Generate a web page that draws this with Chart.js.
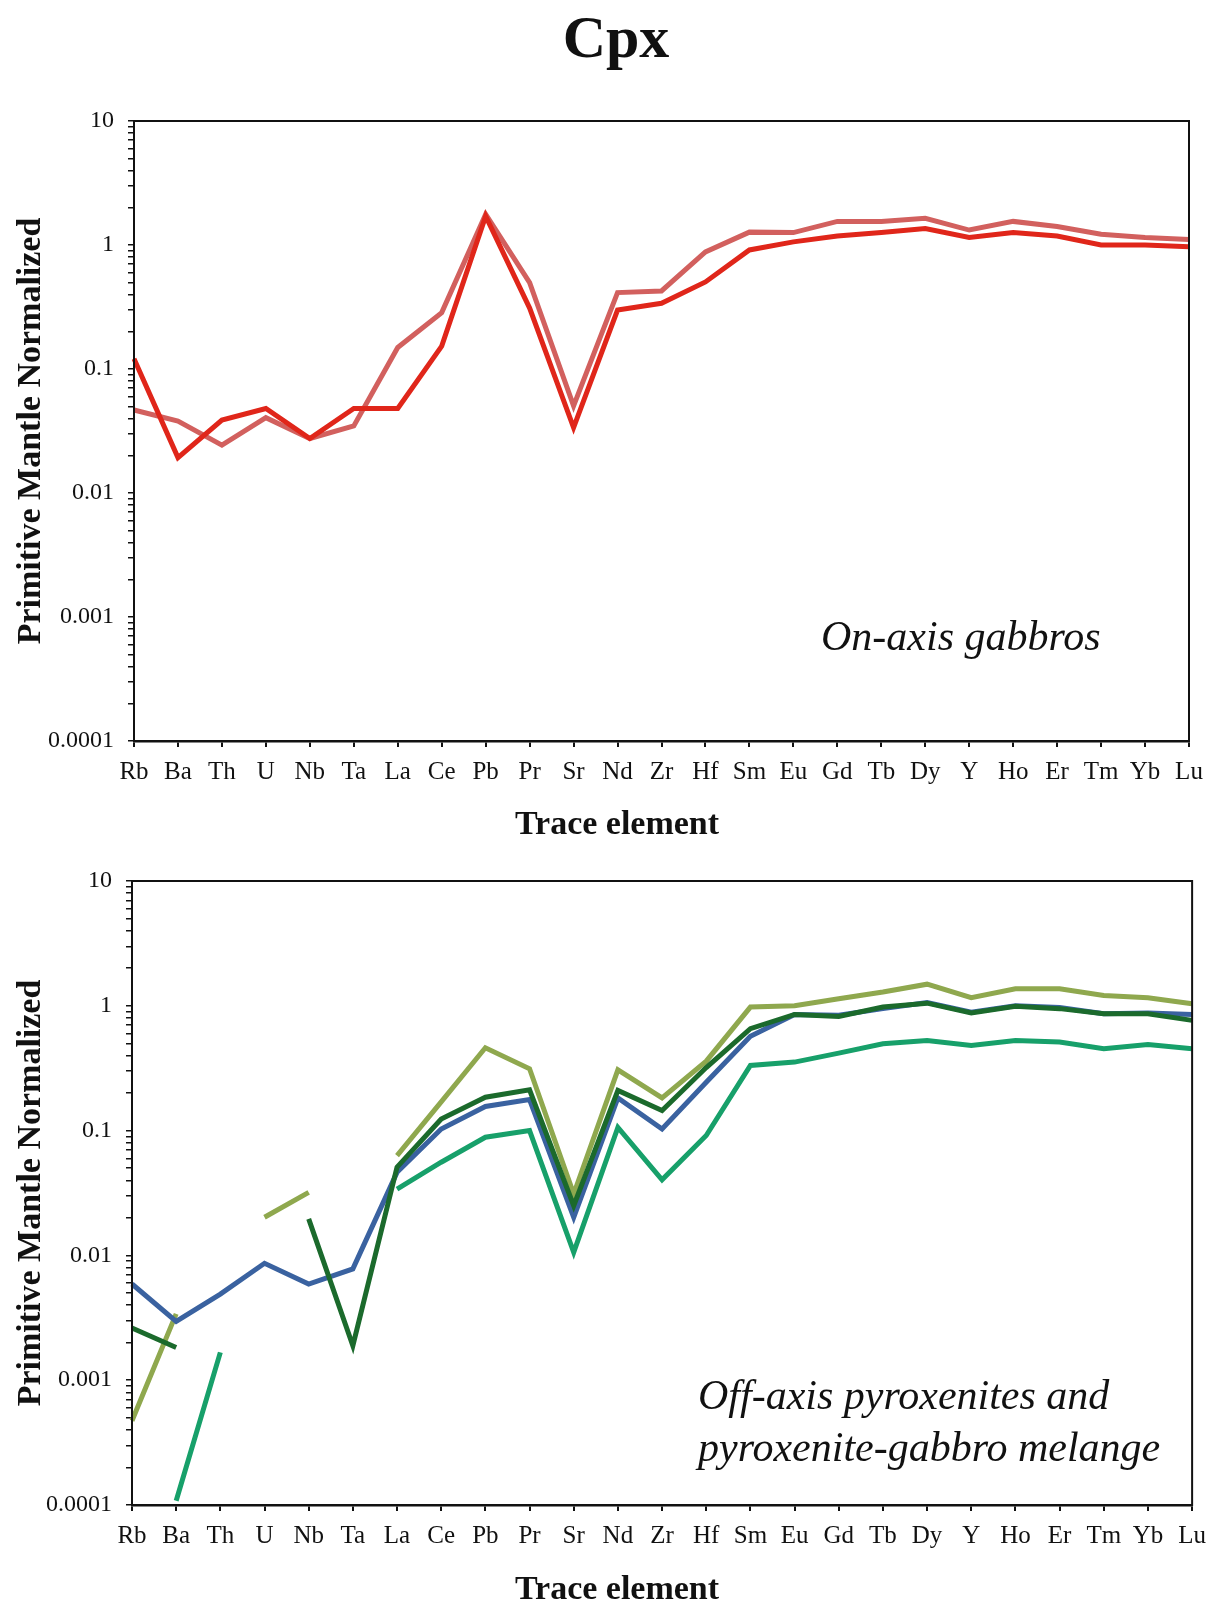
<!DOCTYPE html>
<html>
<head>
<meta charset="utf-8">
<script src="https://cdn.jsdelivr.net/npm/chart.js@4"></script>
<style>
  body { margin: 0; width: 1216px; height: 1600px; overflow: hidden; background: #fff; font-family: "Liberation Serif", serif; }
  .box { position: absolute; left: 0; width: 1216px; }
  .label { position: absolute; font-family: "Liberation Serif", serif; color: #111; white-space: nowrap; }
  .xtitle { left: 0; width: 1234px; text-align: center; font-size: 34px; font-weight: bold; line-height: 40px; }
</style>
</head>
<body>
<div class="label" style="left:0;width:1232px;top:6px;text-align:center;font-size:60px;font-weight:bold;line-height:62px;">Cpx</div>
<div class="box" style="top:0;height:850px;"><canvas id="top"></canvas></div>
<div class="box" style="top:850px;height:750px;"><canvas id="bottom"></canvas></div>
<div class="label xtitle" style="top:803px;">Trace element</div>
<div class="label xtitle" style="top:1568px;">Trace element</div>
<div class="label" style="left:821px;top:612px;font-size:42px;font-style:italic;line-height:48px;">On-axis gabbros</div>
<div class="label" style="left:698px;top:1369px;font-size:42px;font-style:italic;line-height:52px;">Off-axis pyroxenites and<br>pyroxenite-gabbro melange</div>
<script>
// trace elements, primitive-mantle normalized
const elements = ["Rb", "Ba", "Th", "U", "Nb", "Ta", "La", "Ce", "Pb", "Pr", "Sr", "Nd", "Zr", "Hf", "Sm", "Eu", "Gd", "Tb", "Dy", "Y", "Ho", "Er", "Tm", "Yb", "Lu"];
const yTicks = [0.0001, 0.001, 0.01, 0.1, 1, 10];

// on-axis gabbros
const gabbroA = [0.121, 0.0193, 0.0388, 0.048, 0.0275, 0.048, 0.048, 0.153, 1.71, 0.31, 0.0337, 0.299, 0.339, 0.504, 0.912, 1.06, 1.18, 1.26, 1.36, 1.15, 1.26, 1.18, 1.0, 1.0, 0.97];
const gabbroB = [0.0467, 0.038, 0.0243, 0.0405, 0.0275, 0.0347, 0.149, 0.285, 1.77, 0.497, 0.0504, 0.413, 0.426, 0.879, 1.27, 1.26, 1.55, 1.55, 1.64, 1.32, 1.55, 1.41, 1.22, 1.15, 1.11];

// off-axis pyroxenites / melange
const pyxOlive = [0.000473, 0.0034, null, 0.0202, 0.032, null, 0.063, 0.17, 0.461, 0.313, 0.031, 0.307, 0.183, 0.36, 0.977, 1.0, 1.14, 1.29, 1.49, 1.16, 1.37, 1.37, 1.21, 1.16, 1.04];
const pyxDark = [0.00262, 0.00183, null, null, 0.0196, 0.00189, 0.051, 0.124, 0.185, 0.212, 0.025, 0.21, 0.145, 0.32, 0.655, 0.853, 0.822, 0.977, 1.05, 0.875, 0.99, 0.949, 0.865, 0.865, 0.764];
const pyxBlue = [0.0059, 0.00296, 0.0049, 0.00865, 0.0059, 0.0078, 0.0463, 0.103, 0.156, 0.177, 0.0202, 0.183, 0.103, 0.244, 0.569, 0.853, 0.84, 0.949, 1.06, 0.89, 1.0, 0.97, 0.865, 0.875, 0.853];
const pyxTeal = [null, 0.000108, 0.00167, null, null, null, 0.034, 0.0558, 0.0885, 0.1, 0.0106, 0.106, 0.0403, 0.0914, 0.333, 0.354, 0.418, 0.496, 0.528, 0.481, 0.528, 0.512, 0.453, 0.49, 0.453];

// frame round the plot area (top and right edges)
const frame = {
  id: "frame",
  afterDraw(chart) {
    const { ctx, chartArea: a } = chart;
    ctx.save();
    ctx.strokeStyle = "#111";
    ctx.lineWidth = 2;
    ctx.strokeRect(a.left, a.top, a.right - a.left, a.bottom - a.top);
    ctx.restore();
  }
};

function line(label, data, color, order) {
  return { label, data, borderColor: color, borderWidth: 5, pointRadius: 0, tension: 0, spanGaps: false, order };
}

function makeChart(id, datasets, o) {
  return new Chart(document.getElementById(id), {
    type: "line",
    data: { labels: elements, datasets },
    plugins: [frame],
    options: {
      responsive: true,
      maintainAspectRatio: false,
      animation: false,
      layout: { padding: { top: o.top, right: o.right, left: 0, bottom: 0 } },
      plugins: { legend: { display: false }, tooltip: { enabled: false } },
      scales: {
        x: {
          offset: false,
          grid: { drawOnChartArea: false, tickLength: 6, color: "#111", lineWidth: 2 },
          border: { color: "#111", width: 2.5 },
          ticks: { color: "#111", padding: 10, maxRotation: 0, autoSkip: false, font: { family: "Liberation Serif", size: 25 } },
          afterFit(scale) { scale.height = o.xHeight; }
        },
        y: {
          type: "logarithmic",
          min: 0.0001,
          max: 10,
          grid: { drawOnChartArea: false, tickLength: 6, color: "#111", lineWidth: 1.5 },
          border: { color: "#111", width: 2 },
          afterBuildTicks(scale) {
            const t = [];
            yTicks.forEach((p, i) => {
              t.push({ value: p });
              if (i < yTicks.length - 1) for (let k = 2; k <= 9; k++) t.push({ value: p * k });
            });
            scale.ticks = t;
          },
          ticks: {
            color: "#111",
            padding: 14,
            autoSkip: false,
            font: { family: "Liberation Serif", size: 24 },
            callback: (v) => (yTicks.some((p) => Math.abs(p - v) / p < 1e-6) ? String(+v.toPrecision(1)) : "")
          },
          title: { display: true, text: "Primitive Mantle Normalized", color: "#111", padding: { top: 11, bottom: 0 }, font: { family: "Liberation Serif", size: 34, weight: "bold" } },
          afterFit(scale) { scale.width = o.yWidth; }
        }
      }
    }
  });
}

makeChart("top", [
  line("On-axis gabbro 1", gabbroA, "#e0261a", 0),
  line("On-axis gabbro 2", gabbroB, "#d2605e", 1)
], { top: 121, right: 27, yWidth: 134, xHeight: 109 });

makeChart("bottom", [
  line("Pyroxenite olive", pyxOlive, "#8fa84e", 3),
  line("Pyroxenite dark", pyxDark, "#1b6a2c", 0),
  line("Pyroxenite blue", pyxBlue, "#3a62a0", 1),
  line("Pyroxenite teal", pyxTeal, "#17a06a", 2)
], { top: 31, right: 20, yWidth: 132, xHeight: 95 });
</script>
</body>
</html>
